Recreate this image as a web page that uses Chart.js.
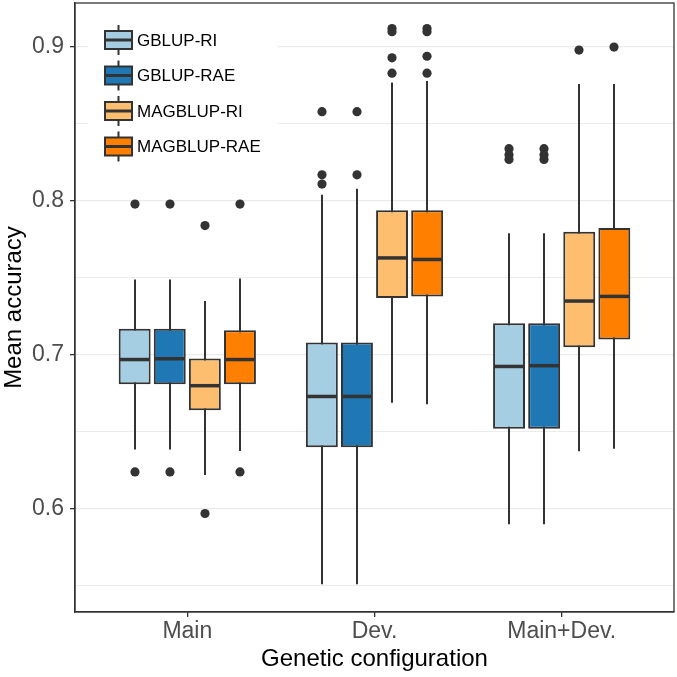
<!DOCTYPE html>
<html>
<head>
<meta charset="utf-8">
<script src="https://cdn.jsdelivr.net/npm/chart.js@4/dist/chart.umd.min.js"></script>
<style>
  html, body { margin: 0; padding: 0; background: #ffffff; }
  #wrap { width: 677px; height: 677px; }
</style>
</head>
<body>
<div id="wrap"><canvas id="c" width="677" height="677"></canvas></div>
<script>
// ---------- DATA ----------
const categories = ['Main', 'Dev.', 'Main+Dev.'];
const seriesNames = ['GBLUP-RI', 'GBLUP-RAE', 'MAGBLUP-RI', 'MAGBLUP-RAE'];
const seriesColors = ['#A6CEE3', '#1F78B4', '#FDBF6F', '#FF7F00'];
const yTickValues = [0.55, 0.6, 0.65, 0.7, 0.75, 0.8, 0.85, 0.9];
const yMajorTicks = [0.6, 0.7, 0.8, 0.9];

// indexed [series][category]
const whiskerLow = [
  [0.6385, 0.551, 0.590],
  [0.6385, 0.551, 0.590],
  [0.622, 0.669, 0.6375],
  [0.6376, 0.668, 0.639]
];
const q1 = [
  [0.681, 0.640, 0.652],
  [0.681, 0.640, 0.652],
  [0.664, 0.737, 0.705],
  [0.681, 0.738, 0.710]
];
const median = [
  [0.697, 0.673, 0.6925],
  [0.6975, 0.673, 0.693],
  [0.680, 0.763, 0.735],
  [0.697, 0.762, 0.738]
];
const q3 = [
  [0.717, 0.708, 0.7205],
  [0.717, 0.708, 0.7205],
  [0.6976, 0.794, 0.780],
  [0.716, 0.794, 0.7825]
];
const whiskerHigh = [
  [0.749, 0.804, 0.779],
  [0.749, 0.808, 0.779],
  [0.735, 0.877, 0.876],
  [0.7496, 0.878, 0.876]
];
const outliers = [
  [[0.798, 0.624], [0.858, 0.817, 0.811], [0.834, 0.830, 0.827]],
  [[0.798, 0.624], [0.858, 0.817], [0.834, 0.830, 0.827]],
  [[0.784, 0.597], [0.912, 0.910, 0.893, 0.883], [0.898]],
  [[0.798, 0.624], [0.912, 0.910, 0.894, 0.883], [0.900]]
];

// ---------- STYLE ----------
const FONT = '"Liberation Sans", Arial, Helvetica, sans-serif';
const DARK = '#333333';
const X_EXPAND = 0.6; // discrete axis expansion (categories) on each side

const datasets = seriesNames.map((name, i) => ({
  label: name,
  data: categories.map((_, j) => [q1[i][j], q3[i][j]]),
  backgroundColor: seriesColors[i],
  borderColor: DARK,
  borderWidth: 2,
  borderSkipped: false,
  categoryPercentage: 0.75,
  barPercentage: 0.91
}));

const isMajor = (v) => yMajorTicks.some(m => Math.abs(m - v) < 1e-6);

const boxPlugin = {
  id: 'boxParts',
  beforeDatasetsDraw(chart) {
    const ctx = chart.ctx, ys = chart.scales.y;
    ctx.save();
    ctx.strokeStyle = DARK;
    ctx.lineWidth = 2;
    chart.data.datasets.forEach((ds, i) => {
      const meta = chart.getDatasetMeta(i);
      meta.data.forEach((el, j) => {
        const x = Math.round(el.x);
        ctx.beginPath();
        ctx.moveTo(x, ys.getPixelForValue(whiskerLow[i][j]));
        ctx.lineTo(x, ys.getPixelForValue(whiskerHigh[i][j]));
        ctx.stroke();
      });
    });
    ctx.restore();
  },
  afterDatasetsDraw(chart) {
    const ctx = chart.ctx, ys = chart.scales.y, ca = chart.chartArea;
    ctx.save();
    chart.data.datasets.forEach((ds, i) => {
      const meta = chart.getDatasetMeta(i);
      meta.data.forEach((el, j) => {
        const half = el.width / 2;
        const ym = ys.getPixelForValue(median[i][j]);
        ctx.strokeStyle = DARK;
        ctx.lineWidth = 3.5;
        ctx.beginPath();
        ctx.moveTo(el.x - half + 1, ym);
        ctx.lineTo(el.x + half - 1, ym);
        ctx.stroke();
        ctx.fillStyle = DARK;
        outliers[i][j].forEach(v => {
          ctx.beginPath();
          ctx.arc(Math.round(el.x), ys.getPixelForValue(v), 4.6, 0, Math.PI * 2);
          ctx.fill();
        });
      });
    });
    // panel border
    ctx.strokeStyle = DARK;
    ctx.lineWidth = 1.3;
    ctx.strokeRect(ca.left, ca.top, ca.right - ca.left, ca.bottom - ca.top);

    // legend
    const lx = ca.left + 13, ly = ca.top + 8;
    ctx.fillStyle = '#ffffff';
    ctx.fillRect(lx, ly, 190, 158);
    const keyL = ca.left + 30, keyW = 27, keyH = 18;
    const centers = [37, 72.5, 108, 143.5];
    seriesNames.forEach((name, i) => {
      const cy = ca.top + centers[i];
      const cx = keyL + keyW / 2;
      ctx.strokeStyle = DARK;
      ctx.lineWidth = 2;
      ctx.beginPath();
      ctx.moveTo(cx, cy - 15);
      ctx.lineTo(cx, cy + 15);
      ctx.stroke();
      ctx.fillStyle = seriesColors[i];
      ctx.fillRect(keyL, cy - keyH / 2, keyW, keyH);
      ctx.strokeRect(keyL, cy - keyH / 2, keyW, keyH);
      ctx.lineWidth = 3;
      ctx.beginPath();
      ctx.moveTo(keyL, cy);
      ctx.lineTo(keyL + keyW, cy);
      ctx.stroke();
      ctx.fillStyle = '#000000';
      ctx.font = '17px ' + FONT;
      ctx.textAlign = 'left';
      ctx.textBaseline = 'middle';
      ctx.fillText(name, keyL + keyW + 5, cy + 1);
    });
    ctx.restore();
  }
};

new Chart(document.getElementById('c'), {
  type: 'bar',
  data: { labels: categories, datasets },
  plugins: [boxPlugin],
  options: {
    responsive: false,
    animation: false,
    devicePixelRatio: 1,
    layout: { padding: { top: 3, right: 3, left: 0, bottom: 0 } },
    plugins: { legend: { display: false }, tooltip: { enabled: false } },
    scales: {
      x: {
        afterBuildTicks(scale) {
          scale._startValue = -X_EXPAND;
          scale._valueRange = categories.length - 1 + 2 * X_EXPAND;
        },
        afterFit(scale) { scale.height = 65; scale.paddingLeft = 0; scale.paddingRight = 0; },
        grid: { display: true, offset: false, drawOnChartArea: false, tickLength: 5, color: DARK, lineWidth: 1.3 },
        border: { display: true, color: DARK, width: 1.3 },
        ticks: { color: '#4D4D4D', font: { family: FONT, size: 23 }, padding: 1 },
        title: { display: true, text: 'Genetic configuration', color: '#000000',
                 font: { family: FONT, size: 24 }, padding: { top: 0, bottom: 3 } }
      },
      y: {
        min: 0.533,
        max: 0.9286,
        afterFit(scale) { scale.width = 75; scale.paddingTop = 0; scale.paddingBottom = 0; },
        afterBuildTicks(scale) { scale.ticks = yTickValues.map(v => ({ value: v })); },
        grid: {
          color: '#EBEBEB',
          lineWidth: (c) => (c.tick && isMajor(c.tick.value)) ? 1.3 : 1,
          tickLength: 5,
          tickColor: (c) => (c.tick && isMajor(c.tick.value)) ? DARK : 'rgba(0,0,0,0)',
          tickWidth: 1.3
        },
        border: { display: true, color: DARK, width: 1.3 },
        ticks: {
          autoSkip: false,
          color: '#4D4D4D',
          font: { family: FONT, size: 23 },
          padding: 6,
          callback: (v) => isMajor(v) ? v.toFixed(1) : ''
        },
        title: { display: true, text: 'Mean accuracy', color: '#000000',
                 font: { family: FONT, size: 24 }, padding: { top: 0, bottom: 0 } }
      }
    }
  }
});
</script>
</body>
</html>
